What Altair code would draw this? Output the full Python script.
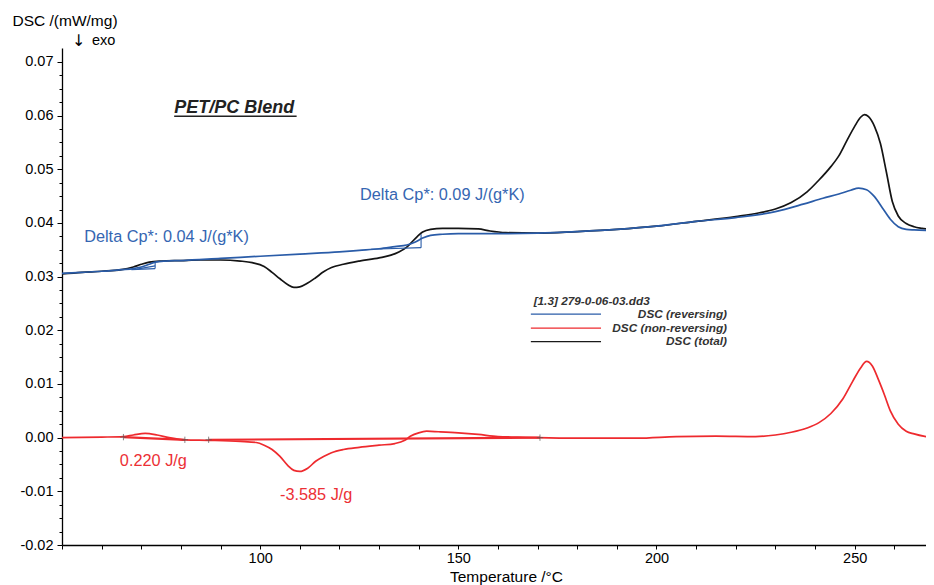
import altair as alt
import pandas as pd

# ---------------- data ----------------
T_total = [50, 55, 60, 65, 68, 70, 72, 75, 80, 85, 90, 95, 98, 101, 103, 105, 107, 108.5,
           110, 112, 114, 116, 118, 121, 125, 130, 133, 135, 137, 139, 141, 143, 146, 150,
           155, 158, 162, 170, 180, 190, 200, 210, 220, 226, 230, 234, 238, 241, 244, 246,
           248, 250, 251.5, 252.5, 253.5, 255, 256.5, 258, 259.5, 261, 263, 265, 267, 270]
DSC_total = [0.0305, 0.0308, 0.0310, 0.0313, 0.0318, 0.0323, 0.0327, 0.0329, 0.0330, 0.0331,
             0.0331, 0.0329, 0.0326, 0.0319, 0.0308, 0.0296, 0.0285, 0.0280, 0.0281, 0.0288,
             0.0298, 0.0309, 0.0317, 0.0323, 0.0329, 0.0335, 0.0340, 0.0346, 0.0355, 0.0370,
             0.0383, 0.0388, 0.0390, 0.0390, 0.0389, 0.0385, 0.0382, 0.0381, 0.0384, 0.0388,
             0.0394, 0.0403, 0.0412, 0.0419, 0.0426, 0.0438, 0.0458, 0.0480, 0.0505, 0.0525,
             0.0553, 0.0580, 0.0597, 0.0602, 0.0598, 0.0580, 0.0548, 0.0495, 0.0440, 0.0413,
             0.0399, 0.0393, 0.0390, 0.0387]

T_rev = [50, 55, 60, 65, 68, 70, 72, 73.5, 76, 80, 90, 100, 110, 120, 125, 130, 134, 137,
         139, 141, 143, 146, 150, 160, 170, 180, 190, 200, 210, 220, 230, 237, 242, 246, 249,
         251, 253, 255, 257, 259, 261, 263, 265, 270]
DSC_rev = [0.0306, 0.0308, 0.0310, 0.0313, 0.0315, 0.0318, 0.0323, 0.0327, 0.0329, 0.0330,
           0.0334, 0.0338, 0.0342, 0.0346, 0.0349, 0.0352, 0.0356, 0.0359, 0.0364, 0.0372,
           0.0377, 0.0379, 0.0380, 0.0380, 0.0381, 0.0384, 0.0388, 0.0394, 0.0403, 0.0410,
           0.0421, 0.0435, 0.0446, 0.0454, 0.0461, 0.0465, 0.0462, 0.0449, 0.0428, 0.0407,
           0.0393, 0.0388, 0.0387, 0.0386]

T_non = [50, 60, 65.5, 68, 71, 74, 77, 81, 87, 95, 99, 101, 103, 105, 107, 108.5, 110, 112,
         114, 116, 118, 121, 125, 130, 134, 136.5, 138, 140, 142, 145, 150, 155, 160, 165,
         170, 180, 195, 205, 215, 225, 230, 234, 238, 241, 244, 247, 249.5, 251.5, 253,
         254.5, 256, 257.5, 259, 261, 263, 265, 270]
DSC_non = [0.0, 0.0001, 0.0002, 0.0005, 0.0008, 0.0005, 0.0, -0.0004, -0.0005, -0.0007,
           -0.0009, -0.0014, -0.0022, -0.0035, -0.0052, -0.0061, -0.0063, -0.0057, -0.0044,
           -0.0035, -0.0028, -0.0022, -0.0018, -0.0014, -0.0011, -0.0005, 0.0003, 0.0009,
           0.0012, 0.0011, 0.0009, 0.0006, 0.0002, 0.0001, 0.0, -0.0001, -0.0001, 0.0002,
           0.0003, 0.0002, 0.0005, 0.0010, 0.0018, 0.0028, 0.0045, 0.0072, 0.0105, 0.0130,
           0.0142, 0.0133, 0.0108, 0.0080, 0.0050, 0.0025, 0.0012, 0.0007, -0.0001]

# glass-step construction lines (reversing curve)
con_seg = ["a", "a", "b", "b", "c", "c", "d", "d", "e", "e"]
con_T = [67.5, 73.5, 73.5, 73.5, 68.9, 73.5, 128, 140.6, 140.6, 140.6]
con_v = [0.0313, 0.0315, 0.0315, 0.0327, 0.0314, 0.0320, 0.0351, 0.0354, 0.0354, 0.0379]

# peak integration baselines (non-reversing curve)
base_seg = ["a", "a", "b", "b"]
base_T = [65.5, 81, 87, 170.6]
base_v = [0.0001, -0.0004, -0.0004, 0.0]

# annotation texts
ann_blue_text = ["Delta Cp*: 0.04 J/(g*K)", "Delta Cp*: 0.09 J/(g*K)"]
ann_blue_T = [55.6, 125.2]
ann_blue_v = [0.0365, 0.04435]
ann_red_text = ["0.220 J/g", "-3.585 J/g"]
ann_red_T = [64.6, 105.0]
ann_red_v = [-0.0052, -0.0116]

legend_names = ["DSC (reversing)", "DSC (non-reversing)", "DSC (total)"]
legend_colors = ["#2a5ca8", "#ee2a2e", "#1a1a1a"]
legend_v = [0.0230, 0.0204, 0.0179]

BLUE = "#2a5ca8"
RED = "#ee2a2e"
BLACK = "#141414"
FONT = "Liberation Sans"

# ---------------- scales / axes ----------------
xs = alt.Scale(domain=[50, 268], nice=False, zero=False)
ys = alt.Scale(domain=[-0.02, 0.0726], nice=False, zero=False)

x_axis = alt.Axis(
    values=list(range(50, 271, 10)),
    labelExpr="datum.value % 50 == 0 && datum.value > 50 ? datum.label : ''",
    title="Temperature /°C", titleX=444, titleY=36, titleAlign="center",
    titleBaseline="alphabetic", titleFontSize=15.5,
    tickSize=4, labelPadding=2, labelFontSize=14.5, labelOverlap=False, labelFlush=False,
)
y_axis = alt.Axis(
    values=[round(-0.02 + i * 0.0025, 4) for i in range(37)],
    labelExpr="abs(round(datum.value*400)) % 4 == 0 ? (datum.value < -0.0001 ? '-' : '') + format(abs(datum.value), '.2f') : ''",
    title="DSC /(mW/mg)", titleAngle=0, titleX=-50, titleY=-23, titleAlign="left",
    titleBaseline="alphabetic", titleFontSize=15.5,
    tickSize={"condition": {"test": "abs(round(datum.value*400)) % 4 == 0", "value": 5}, "value": 3},
    labelPadding=4, labelFontSize=14.5, labelOverlap=False, labelFlush=False,
)

X = alt.X("T:Q", scale=xs, axis=x_axis)
Y = alt.Y("v:Q", scale=ys, axis=y_axis)


def frame(T, v, **extra):
    d = {"T": T, "v": v}
    d.update(extra)
    return pd.DataFrame(d)


total = alt.Chart(frame(T_total, DSC_total)).mark_line(
    color=BLACK, strokeWidth=1.7, clip=True, interpolate="monotone").encode(x=X, y=Y)
nonrev = alt.Chart(frame(T_non, DSC_non)).mark_line(
    color=RED, strokeWidth=1.7, clip=True, interpolate="monotone").encode(x=X, y=Y)
rev = alt.Chart(frame(T_rev, DSC_rev)).mark_line(
    color=BLUE, strokeWidth=1.7, clip=True, interpolate="monotone").encode(x=X, y=Y)

construct = alt.Chart(frame(con_T, con_v, seg=con_seg)).mark_line(
    color=BLUE, strokeWidth=1.1, clip=True).encode(x=X, y=Y, detail="seg:N")
baselines = alt.Chart(frame(base_T, base_v, seg=base_seg)).mark_line(
    color=RED, strokeWidth=2.2, clip=True).encode(x=X, y=Y, detail="seg:N")
markers = alt.Chart(frame(base_T, base_v)).mark_point(
    shape="M-1,0H1M0,-1V1", size=40, filled=False, strokeWidth=1, color="#555").encode(x=X, y=Y)

blue_txt = alt.Chart(frame(ann_blue_T, ann_blue_v, label=ann_blue_text)).mark_text(
    align="left", baseline="alphabetic", font=FONT, fontSize=16.3, color="#3566b2"
).encode(x=X, y=Y, text="label:N")
red_txt = alt.Chart(frame(ann_red_T, ann_red_v, label=ann_red_text)).mark_text(
    align="left", baseline="alphabetic", font=FONT, fontSize=16.3, color="#ec3035"
).encode(x=X, y=Y, text="label:N")

title_txt = alt.Chart(frame([78.3], [0.0604], label=["PET/PC Blend"])).mark_text(
    align="left", baseline="alphabetic", font=FONT, fontSize=18, fontWeight="bold",
    fontStyle="italic", color="#222"
).encode(x=X, y=Y, text="label:N")
underline = alt.Chart(pd.DataFrame({"T": [78.3], "T2": [109.2], "v": [0.0599]})).mark_rule(
    color="#222", strokeWidth=1.5).encode(x=X, x2="T2:Q", y=Y)

# manual legend
leg_lines = alt.Chart(pd.DataFrame({"T": [168.3] * 3, "T2": [186.0] * 3, "v": legend_v,
                                    "name": legend_names})).mark_rule(strokeWidth=1.2).encode(
    x=X, x2="T2:Q", y=Y,
    color=alt.Color("name:N", scale=alt.Scale(domain=legend_names, range=legend_colors), legend=None))
leg_labels = alt.Chart(frame([217.8] * 3, [x + 0.0001 for x in legend_v], label=legend_names)).mark_text(
    align="right", baseline="middle", font=FONT, fontSize=11.8, fontWeight="bold",
    fontStyle="italic", color="#333"
).encode(x=X, y=Y, text="label:N")
leg_head = alt.Chart(frame([169.0], [0.0255], label=["[1.3] 279-0-06-03.dd3"])).mark_text(
    align="left", baseline="middle", font=FONT, fontSize=11.8, fontWeight="bold",
    fontStyle="italic", color="#333"
).encode(x=X, y=Y, text="label:N")

arrow = alt.Chart(pd.DataFrame({"label": ["↓"]})).mark_text(
    align="left", baseline="alphabetic", font="DejaVu Sans", fontSize=16, color="black"
).encode(x=alt.value(10), y=alt.value(-2), text="label:N")
exo = alt.Chart(pd.DataFrame({"label": ["exo"]})).mark_text(
    align="left", baseline="alphabetic", font=FONT, fontSize=14.5, color="black"
).encode(x=alt.value(30), y=alt.value(-3), text="label:N")

chart = alt.layer(
    total, nonrev, rev, construct, baselines, markers,
    blue_txt, red_txt, title_txt, underline, leg_lines, leg_labels, leg_head, arrow, exo
).properties(
    width=864, height=497,
    padding={"left": 54, "top": 40, "right": 0, "bottom": 40},
    autosize="none",
).configure_view(stroke=None).configure_axis(
    domainColor="black", domainWidth=1.3, tickColor="black", tickWidth=1,
    labelColor="black", titleColor="black", labelFont=FONT, titleFont=FONT,
    titleFontWeight="normal", grid=False,
)

chart.save("out.html", embed_options={"renderer": "svg", "actions": False})
